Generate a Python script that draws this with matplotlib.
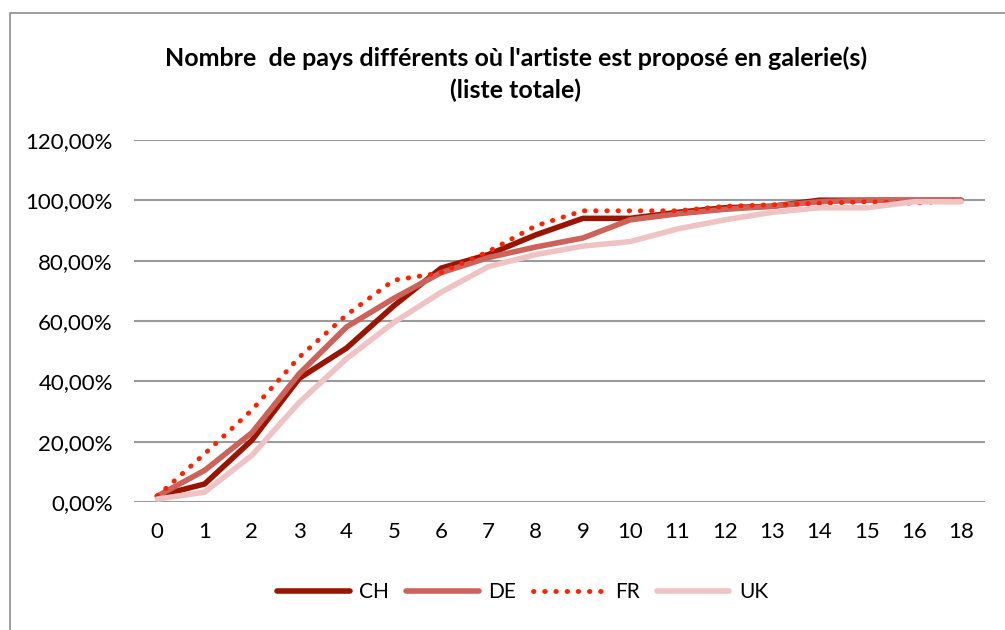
import matplotlib.pyplot as plt
from matplotlib.patches import Rectangle
from matplotlib.ticker import FuncFormatter

# Data (cumulative share of artists, in %)
categories = ['0', '1', '2', '3', '4', '5', '6', '7', '8', '9',
              '10', '11', '12', '13', '14', '15', '16', '18']
ch = [2, 6, 20.5, 41, 51, 65, 77.5, 82, 88.5, 94, 94, 96, 97.5, 98, 100, 100, 100, 100]
de = [2, 10.5, 23, 42.5, 58, 67.5, 76, 81, 84.5, 87.5, 93.5, 95.5, 97, 98, 99.5, 100, 100, 100]
fr = [2, 16, 30.5, 48, 62, 73.5, 76, 83, 91.5, 96.5, 96.5, 96.5, 98, 98.5, 99, 99.5, 99, 100]
uk = [1, 3.3, 15.5, 33, 47.5, 59.5, 69.5, 78, 82, 84.8, 86.3, 90.5, 93.5, 96, 97.5, 97.5, 99.5, 99.5]

plt.rcParams['font.family'] = ['Lato', 'DejaVu Sans']

fig = plt.figure(figsize=(10.05, 6.3), dpi=100)
ax = fig.add_axes([0.133, 0.203, 0.847, 0.575])

# outer chart border
fig.patches.append(Rectangle((0.010, -0.01), 1.2, 0.99, transform=fig.transFigure,
                             fill=False, edgecolor='#8c8c8c', linewidth=1.2))

x = list(range(len(categories)))
ax.plot(x, ch, color='#991500', linewidth=4, label='CH', solid_capstyle='round')
ax.plot(x, de, color='#cd625a', linewidth=4, label='DE', solid_capstyle='round')
ax.plot(x, fr, color='#ff2200', linewidth=3.5, linestyle=(0, (0.1, 2.2)),
        dash_capstyle='round', label='FR')
ax.plot(x, uk, color='#efc3c3', linewidth=4, label='UK', solid_capstyle='round')

ax.set_xlim(-0.5, len(categories) - 0.5)
ax.set_ylim(0, 120)
ax.set_yticks(range(0, 121, 20))
ax.yaxis.set_major_formatter(FuncFormatter(lambda v, p: f'{v:.2f}'.replace('.', ',') + '%'))
ax.set_xticks(x)
ax.set_xticklabels(categories)
ax.tick_params(axis='both', length=0, labelsize=16)
ax.tick_params(axis='x', pad=14)
ax.tick_params(axis='y', pad=15)
ax.grid(axis='y', color='#9a9a9a', linewidth=1.5)
ax.set_axisbelow(True)
for s in ax.spines.values():
    s.set_visible(False)

fig.text(0.513, 0.908, "Nombre  de pays différents où l'artiste est proposé en galerie(s)",
         ha='center', va='center', fontsize=18, fontweight='bold')
fig.text(0.513, 0.856, "(liste totale)", ha='center', va='center', fontsize=18, fontweight='bold')

fig.legend(loc='center', bbox_to_anchor=(0.52, 0.06), ncol=4, frameon=False,
           fontsize=15, handlelength=3.5, columnspacing=0.8, handletextpad=0.45)

plt.savefig('out.png', dpi=100)
